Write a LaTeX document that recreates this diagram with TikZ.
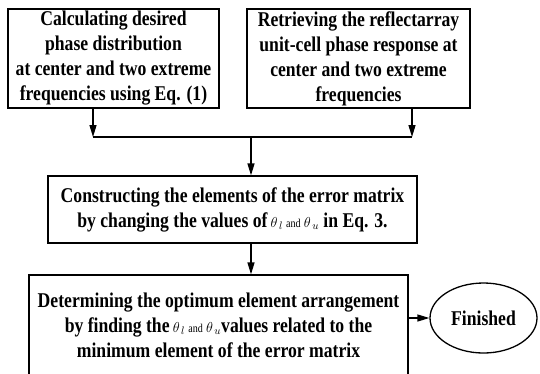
\documentclass[tikz,border=0pt]{standalone}
\usepackage{fontspec}
\setmainfont{Liberation Serif}[FakeStretch=0.84]
\usetikzlibrary{arrows.meta,shapes}

\newcommand{\thlu}{{\mdseries\fontsize{15}{25}\selectfont\ $\theta_{\,l}$ {\fontsize{12}{25}\selectfont and} $\theta_{\,u}$}}

\begin{document}
\begin{tikzpicture}[x=1pt,y=-1pt,line width=1.3pt,
  box/.style={draw,align=center,inner sep=0pt,font=\fontsize{21}{25}\selectfont\bfseries},
  arr/.style={-{Triangle[length=12pt,width=7pt]}}]
\useasboundingbox (0,0) rectangle (540,373);

\node (B1) at (113.5,58.5)[box,minimum width=211pt,minimum height=99pt] {Calculating desired\\phase distribution\\at center and two extreme\\frequencies using Eq. (1)};
\node (B2) at (358.5,58.5)[box,minimum width=223pt,minimum height=99pt] {Retrieving the reflectarray\\unit-cell phase response at\\center and two extreme\\frequencies};
\node (B3) at (232.5,209.5)[box,minimum width=369pt,minimum height=67pt] {Constructing the elements of the error matrix\\by changing the values of\thlu{} in Eq. 3.};
\node (B4) at (218.5,325)[box,minimum width=379pt,minimum height=100pt] {Determining the optimum element arrangement\\by finding the\thlu{}values related to the\\minimum element of the error matrix};
\node (F) at (483.5,318)[draw,ellipse,minimum width=107pt,minimum height=70pt,inner sep=0pt,font=\fontsize{21}{25}\selectfont\bfseries] {Finished};

\coordinate (J1) at (93,137);
\coordinate (J2) at (412,137);
\coordinate (J3) at (251,137);
\draw [arr] (B1.south -| J1) -- (J1);
\draw [arr] (B2.south -| J2) -- (J2);
\draw (J1) -- (J2);
\draw [arr] (J3) -- (B3.north -| J3);
\draw [arr] (B3.south -| J3) -- (B4.north -| J3);
\draw [arr] (B4.east |- F.west) -- (F.west);
\end{tikzpicture}
\end{document}
